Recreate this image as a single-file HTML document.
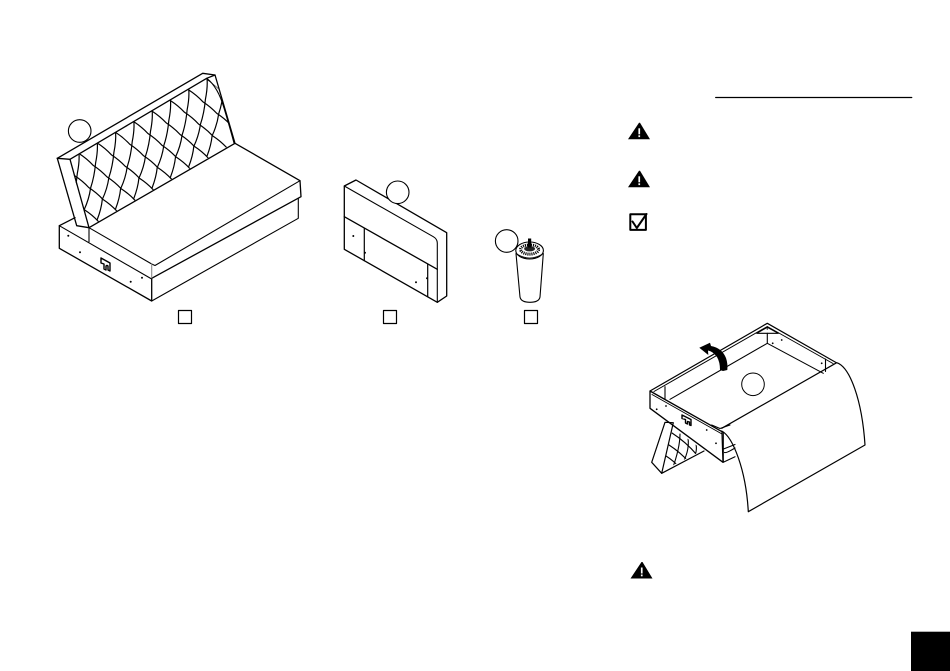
<!DOCTYPE html>
<html>
<head>
<meta charset="utf-8">
<style>
html,body{margin:0;padding:0;background:#fff;width:950px;height:671px;overflow:hidden}
svg{display:block}
</style>
</head>
<body>
<svg width="950" height="671" viewBox="0 0 950 671" xmlns="http://www.w3.org/2000/svg">
<defs>
<clipPath id="panel"><polygon points="70,160 207,78.5 218,88 225,110 234,143 89,227 75,180"/></clipPath>
<clipPath id="mini"><polygon points="673,428 703,450 662,471 667,450"/></clipPath>
<path id="v" d="M0,0 C0.5,7 -0.5,14 -1.7,20 C-2.5,29 -4,37 -6.7,45 C-7.8,53 -10,60 -13.3,67 C-14,74 -16,81 -18.3,87" fill="none"/>
<path id="d" d="M0,0 q8,5.2 14,11.7 q8,5.2 14,11.7 q8,5.2 14,11.7 q8,5.2 14,11.7 q8,5.2 14,11.7 q8,5.2 14,11.7" fill="none"/>
<g id="tri">
<path d="M10,-0.5 L11,-0.5 L21,16 L-1,16 Z" fill="#000"/>
<rect x="9.4" y="5" width="1.7" height="6" fill="#fff"/>
<rect x="9.4" y="12" width="1.7" height="1.8" fill="#fff"/>
</g>
</defs>

<g fill="none" stroke="#000" stroke-width="1.1" stroke-linejoin="round" stroke-linecap="round">

<!-- SOFA -->
<path stroke-width="1.3" d="M57.3,158.3 L202.7,73.3 L215,75 L235,143.3 L300,180.7 L301,196.7 L151.7,278.3 L151.7,301 L59.3,248.3 L59.3,225.7 L75,217.7"/>
<path stroke-width="1.3" d="M57.3,158.3 L76.7,225.7 L89,227.7 L70,159.3 L206.7,78.3 L215,75"/>
<path stroke-width="1.3" d="M57.3,158.3 L70,159.3"/>
<path stroke-width="1.3" d="M89,227.7 L235,143.3"/>
<path d="M89,227.7 L151.7,264 L155,265.5 L300,180.7"/>
<path stroke="#888" d="M151.7,264 L151.7,278"/>
<path d="M59.3,225.7 L151.7,279 M89,227.7 V241.7"/>
<path d="M298.3,198.3 V218.3 L151.7,301"/>
<path d="M206.7,78.3 Q218,87 224,108 Q230,128 234,143"/>
<g clip-path="url(#panel)" stroke-width="1.2">
<use href="#v" x="79" y="153.5"/>
<use href="#v" x="97.3" y="143"/>
<use href="#v" x="115.6" y="132.4"/>
<use href="#v" x="133.9" y="121.8"/>
<use href="#v" x="152.2" y="111.2"/>
<use href="#v" x="170.5" y="100.6"/>
<use href="#v" x="188.8" y="90"/>
<use href="#v" x="207.1" y="79.4"/>
<use href="#v" x="225.4" y="68.8"/>
<use href="#d" x="42.4" y="174.7"/>
<use href="#d" x="60.7" y="164.1"/>
<use href="#d" x="79" y="153.5"/>
<use href="#d" x="97.3" y="143"/>
<use href="#d" x="115.6" y="132.4"/>
<use href="#d" x="133.9" y="121.8"/>
<use href="#d" x="152.2" y="111.2"/>
<use href="#d" x="170.5" y="100.6"/>
<use href="#d" x="188.8" y="90"/>
<use href="#d" x="207.1" y="79.4"/>
</g>
<circle cx="79.7" cy="131" r="11.3" fill="#fff"/>
<path stroke-width="1.4" d="M101,258 L110,263 V271 L108,270 V266 Q107,265 106,266 V270 L104,269 V264 L101,263 Z"/>

<!-- HEADBOARD -->
<path stroke-width="1.3" d="M344.3,186 L356,180 L446.7,232.7 V296 L437.3,302.3 L344.3,249.3 Z"/>
<path d="M344.3,186 L433.3,236.7 Q437.3,239 437.3,243 V302.3"/>
<path stroke-width="1.3" d="M344.3,216.7 L437.3,269.3"/>
<path stroke-width="1.2" d="M364.3,228.3 V260.7 M427.7,264.3 V296.7"/>
<circle cx="397.7" cy="192.3" r="11.3" fill="#fff"/>

<!-- LEG -->
<path stroke-width="1.1" d="M516,253.5 L520,297 Q521,302.3 530,302.3 Q539,302.3 540,297 L543.3,253.5"/>
<ellipse cx="529.6" cy="250.5" rx="13.8" ry="8.5" fill="#fff"/>
<path stroke-width="0.8" d="M517,254 Q529.6,262 542.5,254"/>
<ellipse cx="529.6" cy="249.5" rx="9" ry="4.6" fill="#fff" stroke="#000" stroke-width="3" stroke-dasharray="1.1 0.9" stroke-linecap="butt"/>
<ellipse cx="529.6" cy="248.8" rx="5.5" ry="2.6" fill="#222" stroke="none"/>
<rect x="528" y="238.5" width="3.2" height="9" fill="#000" stroke="none"/>
<circle cx="506.7" cy="241" r="11.3" fill="#fff"/>

<!-- SQUARES -->
<rect x="178.5" y="310.5" width="13" height="13" stroke-width="1.2"/>
<rect x="383.5" y="310.5" width="13" height="13" stroke-width="1.2"/>
<rect x="524.5" y="310.5" width="13" height="13" stroke-width="1.2"/>

<!-- FLIPPED SOFA: back legs panel -->
<path stroke-width="1.2" d="M665,422.3 L651.7,462.3 L661.7,473.3 L673.3,422.7 Z"/>
<path stroke-width="1.2" d="M661.7,473.3 L704,451"/>
<g clip-path="url(#mini)" stroke-width="1.1">
<path d="M672,433 Q686,442 697,455 M669,445 Q680,452 690,463 M666,456 Q674,461 680,468"/>
<path d="M680,434 Q680,448 672,470 M688,438 Q690,452 680,468 M696,444 Q698,454 690,464"/>
</g>

<!-- frame -->
<path stroke-width="1.2" d="M650,391 L767.3,323.3 L836,362.5"/>
<path stroke-width="1" d="M654,391.5 L767.3,326.5 L833,363.5"/>
<path stroke-width="1.3" d="M650,391 V408.3 L723,462.3 L722,431.7 L650,391"/>
<path stroke-width="1" d="M652,394.5 L722,434"/>
<path d="M723.3,432 V462.3 L735,456.7 M723.5,449 L735,444.5 M724.5,452.5 Q726,453.5 735,448"/>
<path d="M665,386.7 V399.3 M670,399.3 L767.3,343.3 L823.3,373.3 M767.3,333.3 V343.3 M825.5,359 V371.5"/>
<path stroke-width="1.1" d="M756.7,333.3 L767.3,327.3 L778.3,333.3 Z"/>
<path d="M711.7,425 L720,428.5 L730,425"/>
<path stroke-width="1.4" d="M682,415 L691,419.5 V425.5 L689.5,425 V422 L687.5,421.5 V424 L685.5,423 V419.5 L682,418.5 Z"/>

<!-- fabric -->
<path stroke-width="1.2" d="M721.7,428.3 L836.7,362.7 C850,367 862,400 865,445 L748.3,511.7 C746,470 733,437 721.7,431"/>
<circle cx="753" cy="384.3" r="11.3" fill="#fff" stroke-width="1"/>

<!-- top rule -->
<path stroke-width="1.3" d="M715.7,97.5 H911.7"/>

<!-- checkbox -->
<rect x="630.3" y="214.3" width="15.6" height="15.6" stroke-width="2"/>
<path stroke-width="2" d="M632.5,221.5 L636.8,228 L646.5,214"/>
</g>

<!-- dots -->
<g fill="#000">
<circle cx="68.3" cy="235.7" r="1"/><circle cx="80" cy="252.3" r="1"/><circle cx="130.7" cy="281.7" r="1"/><circle cx="142" cy="277.7" r="1"/>
<circle cx="353.3" cy="236" r="1"/><circle cx="365" cy="252.7" r="1"/><circle cx="416" cy="282.3" r="1"/><circle cx="427" cy="278.3" r="1"/>
<circle cx="656.7" cy="409.3" r="0.9"/><circle cx="666" cy="406" r="0.9"/><circle cx="706.7" cy="430" r="0.9"/><circle cx="716" cy="443.3" r="0.9"/>
<circle cx="772.7" cy="343.3" r="0.9"/><circle cx="781.7" cy="340" r="0.9"/><circle cx="821.7" cy="363.3" r="0.9"/><circle cx="767.3" cy="329" r="0.7"/>
</g>

<!-- arrow -->
<path fill="#000" d="M699.3,347.7 L710,342.7 L711,346 Q722,348 726,358 Q728,364 727.3,370 L723,371 L720,370 Q720,362 717,357 Q713,351.5 708,350.5 L708.3,355 Z"/>

<!-- warnings -->
<use href="#tri" x="629" y="123.3"/>
<use href="#tri" x="629" y="171.3"/>
<use href="#tri" x="631.5" y="562.5"/>

<!-- page tab -->
<rect x="911" y="631.7" width="39" height="39.3" fill="#000"/>
</svg>
</body>
</html>
